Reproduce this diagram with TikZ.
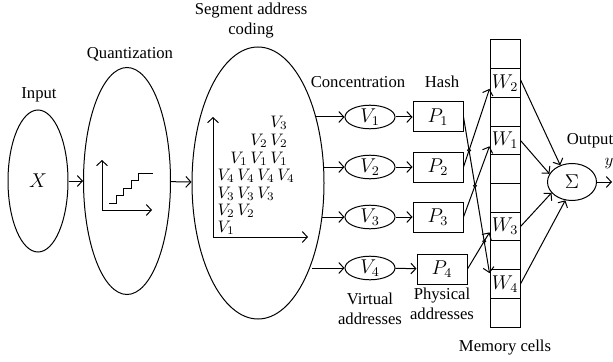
\documentclass[tikz,border=0pt]{standalone}
\usepackage{fontspec}
\setmainfont{Liberation Serif}
\usetikzlibrary{arrows.meta}
\usetikzlibrary{shapes,calc,intersections}

\begin{document}
\begin{tikzpicture}[x=0.6pt,y=-0.6pt,line width=0.6pt,>={Straight Barb[length=3pt,width=6.5pt]}]
\tikzset{
    stage/.style={
        draw,
        ellipse,
        inner sep=0pt,
        font=\large
    },
    virtual/.style={
        draw,
        ellipse,
        minimum width=30pt,
        minimum height=12.6pt,
        inner sep=0pt,
        font=\large
    },
    physical/.style={
        draw,
        rectangle,
        minimum width=30pt,
        minimum height=18pt,
        inner sep=0pt,
        font=\large
    },
    cell/.style={
        draw,
        rectangle,
        minimum width=18pt,
        minimum height=17.22pt,
        inner sep=0pt,
        font=\large
    },
    label/.style={
        align=center,
        inner sep=0pt
    },
    stack/.style={
        inner sep=0pt,
        font=\normalsize
    },
    hop/.style={
        draw,
        line width=0.4pt
    },
}
\useasboundingbox (0,0) rectangle (613,362);

% stages
\node[stage,minimum width=36pt,minimum height=85.2pt] (inp) at (38,181) {$X$};
\node[stage,minimum width=52.2pt,minimum height=136.2pt] (quant) at (127,181) {};
\node[stage,minimum width=79.2pt,minimum height=163.2pt] (seg) at (258,183) {};
\draw[->] (inp) -- (quant);
\draw[->] (quant) -- (seg);

\node[label] (inplab) at (39,95) {Input};
\node[label] (quantlab) at (130,54) {Quantization};
\node[label] (seglab) at (251,21) {Segment address\\coding};

% staircase
\draw[<->] (102,160) -- (102,210) -- (152,210);
\draw (109,203) -- (116,203) -- (116,195.5) -- (123,195.5) -- (123,188) -- (131,188)
      -- (131,180.5) -- (138,180.5) -- (138,173) -- (153,173);

% address coding
\draw[<->] (213,117) -- (213,237) -- (308,237);
\node[stack,anchor=east] (s7) at (288,123) {$V_3$};
\node[stack,anchor=east] (s6) at (288,141) {$V_2\,V_2$};
\node[stack,anchor=east] (s5) at (288,159) {$V_1\,V_1\,V_1$};
\node[stack,anchor=west] (s4) at (217,176) {$V_4\,V_4\,V_4\,V_4$};
\node[stack,anchor=west] (s3) at (217,194) {$V_3\,V_3\,V_3$};
\node[stack,anchor=west] (s2) at (217,211) {$V_2\,V_2$};
\node[stack,anchor=west] (s1) at (217,228) {$V_1$};

% virtual and physical addresses
\coordinate (c1) at (315,117);
\coordinate (c2) at (323,167);
\coordinate (c3) at (322,217);
\coordinate (c4) at (312,268);
\node[virtual] (v1) at (370,117) {$V_1$};
\node[virtual] (v2) at (370,167) {$V_2$};
\node[virtual] (v3) at (370,217) {$V_3$};
\node[virtual] (v4) at (370,268) {$V_4$};
\node[physical] (p1) at (438,117) {$P_1$};
\node[physical] (p2) at (438,167) {$P_2$};
\node[physical] (p3) at (438,217) {$P_3$};
\node[physical] (p4) at (442,269) {$P_4$};
\foreach \i in {1,...,4} {
    \draw[->] (c\i) -- (v\i);
    \draw[->] (v\i) -- (p\i);
}

\node[label] (conclab) at (358,82) {Concentration};
\node[label] (hashlab) at (442,82) {Hash};
\node[label] (virtlab) at (370,309) {Virtual\\addresses};
\node[label] (physlab) at (442,304) {Physical\\addresses};

% memory cells
\foreach \i/\t in {0/{},1/{$W_2$},2/{},3/{$W_1$},4/{},5/{},6/{$W_3$},7/{},8/{$W_4$},9/{}} {
    \node[cell] (m\i) at (505,{40+28.7*(\i+0.5)}) {\t};
}
\node[label] (memlab) at (505,348) {Memory cells};

\draw[->,name path=h1] (p1.east) -- ([yshift=6.5pt]m8.west);
\draw[->,name path=h2] (p2.east) -- ([yshift=-3.5pt]m1.west);
\draw[->,name path=h3] (p3.east) -- ([yshift=-3.5pt]m3.west);
\draw[->,name path=h4] (p4.east) -- ([yshift=-3.5pt]m6.west);
\foreach \j in {2,3,4} {
    \path[name intersections={of=h1 and h\j}] (intersection-1) node[hop,circle,inner sep=0pt,minimum size=2pt] (x\j) {};
}

% output
\node[stage,minimum width=29.4pt,minimum height=22.2pt] (sigma) at (572,182) {$\Sigma$};
\draw[->] ([yshift=2pt]m1.east) -- (sigma.125);
\draw[->] (m3.east) -- (sigma.160);
\draw[->] (m6.east) -- (sigma.208);
\draw[->] (m8.east) -- (sigma.250);
\coordinate (out) at (612,182);
\draw[->] (sigma) -- (out);
\node[label] (outlab) at (590,141) {Output};
\node[label] (ylab) at (609,164) {$y$};
\end{tikzpicture}
\end{document}
